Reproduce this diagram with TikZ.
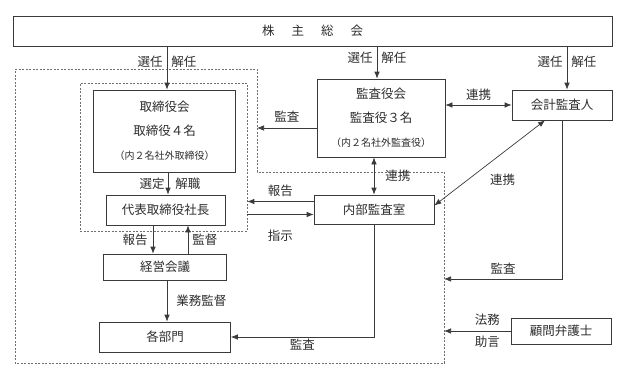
\documentclass[tikz,border=0pt]{standalone}
\usepackage{fontspec}
\setmainfont{Noto Sans CJK JP}
\usepackage{tikz}
\usetikzlibrary{arrows.meta,positioning,calc}
\usepackage{xcolor}
\definecolor{ORGline}{HTML}{3a3a3a}
\definecolor{ORGtext}{HTML}{2e2e2e}
\definecolor{ORGdash}{HTML}{707070}
\newcommand{\subtxt}[1]{{\fontsize{10}{12}\selectfont #1}}

\begin{document}
\begin{tikzpicture}[
    x=1pt,y=-1pt,
    box/.style={draw=ORGline,line width=0.7pt,fill=white,inner sep=0pt,align=center,text=ORGtext,font=\fontsize{12.5}{24}\selectfont},
    grp/.style={draw=ORGdash,line width=0.6pt,dash pattern=on 2pt off 1.5pt},
    arr/.style={-{Latex[length=7pt,width=5.5pt]},ORGline,line width=0.7pt},
    darr/.style={{Latex[length=7pt,width=5.5pt]}-{Latex[length=7pt,width=5.5pt]},ORGline,line width=0.7pt},
    lbl/.style={text=ORGtext,font=\fontsize{12.5}{15}\selectfont,inner sep=1pt}
  ]
    \useasboundingbox (0,0) rectangle (636,375);

    % COMPANY AREA
    \coordinate (grpNW) at (15,69);
    \coordinate (grpNE) at (257,69);
    \coordinate (grpMid) at (257,172);
    \coordinate (grpStep) at (444,172);
    \coordinate (grpSE) at (444,363);
    \coordinate (grpSW) at (15,363);
    \coordinate (auditin) at (444,279);
    \draw[grp] (grpNW) -- (grpNE) -- (grpMid) -- (grpStep) -- (grpSE) -- (grpSW) -- cycle;

    % SHAREHOLDERS
    \node[box,minimum width=599pt,minimum height=30pt] (sh) at (312.5,31) {株\hspace{17pt}主\hspace{17pt}総\hspace{17pt}会};

    % BOARD SIDE
    \node[grp,minimum width=167pt,minimum height=148pt] (boardgrp) at (163.5,157) {};
    \node[box,minimum width=142pt,minimum height=82pt] (board) at (164.5,131) {取締役会\\取締役４名\\ \subtxt{（内２名社外取締役）}};
    \node[box,minimum width=119pt,minimum height=30pt] (pres) at (165.5,210) {代表取締役社長};
    \node[box,minimum width=123pt,minimum height=26pt] (mgmt) at (165,267) {経営会議};
    \node[box,minimum width=131pt,minimum height=30pt] (dept) at (165,337) {各部門};

    % AUDIT SIDE
    \node[box,minimum width=128pt,minimum height=78pt] (kansa) at (381,118) {監査役会\\監査役３名\\ \subtxt{（内２名社外監査役）}};
    \node[box,minimum width=100pt,minimum height=30pt] (auditor) at (562,105) {会計監査人};
    \node[box,minimum width=120pt,minimum height=29pt] (internal) at (374,209.5) {内部監査室};
    \node[box,minimum width=100pt,minimum height=26pt] (lawyer) at (561,331) {顧問弁護士};

    % Arrows - shareholders
    \draw[arr] ([xshift=2.5pt]sh.south -| board.north) -- ([xshift=2.5pt]board.north)
      node[lbl,pos=0.35,left=3pt]{選任} node[lbl,pos=0.35,right=3pt]{解任};
    \draw[arr] ([xshift=-4pt]sh.south -| kansa.north) -- ([xshift=-4pt]kansa.north)
      node[lbl,pos=0.35,left=3pt]{選任} node[lbl,pos=0.35,right=3pt]{解任};
    \draw[arr] ([xshift=5pt]sh.south -| auditor.north) -- ([xshift=5pt]auditor.north)
      node[lbl,pos=0.35,left=3pt]{選任} node[lbl,pos=0.35,right=3pt]{解任};

    % Arrows - audit
    \draw[darr] (kansa.east |- auditor.west) -- (auditor.west) node[lbl,midway,above=3pt]{連携};
    \draw[arr] ([yshift=-10pt]kansa.west) -- ([yshift=-10pt]kansa.west -| grpNE) node[lbl,midway,above=4pt]{監査};
    \draw[darr] (internal.north) -- (internal.north |- kansa.south) node[lbl,midway,right=10pt]{連携};
    \draw[darr] ([xshift=-17pt]auditor.south) -- ([yshift=4pt]internal.east)
      node[lbl,midway,anchor=north west,xshift=-1pt,yshift=-10pt]{連携};
    \draw[arr] ([yshift=8pt]internal.west) -- ([yshift=8pt]internal.west -| boardgrp.east) node[lbl,midway,above=4pt]{報告};
    \draw[arr] ([yshift=-5pt]internal.west -| boardgrp.east) -- ([yshift=-5pt]internal.west) node[lbl,midway,below=14pt]{指示};

    % Arrows - management
    \draw[arr] ([xshift=3.5pt]board.south) -- ([xshift=3.5pt]board.south |- pres.north)
      node[lbl,midway,left=2pt]{選定} node[lbl,midway,right=6pt]{解職};
    \draw[arr] ([xshift=-12.5pt]pres.south) -- ([xshift=-12.5pt]pres.south |- mgmt.north) node[lbl,midway,left=4pt]{報告};
    \draw[arr] ([xshift=22.5pt]pres.south |- mgmt.north) -- ([xshift=22.5pt]pres.south) node[lbl,midway,right=3pt]{監督};
    \draw[arr] ([xshift=2pt]mgmt.south) -- ([xshift=2pt]mgmt.south |- dept.north) node[lbl,midway,right=8pt]{業務監督};
    \draw[arr] (internal.south) |- (dept.east) node[lbl,pos=0.75,below=1pt]{監査};

    % Arrows - outside
    \draw[arr] (auditor.south) |- (auditin) node[lbl,pos=0.75,above=3pt]{監査};
    \draw[arr] (lawyer.west) -- (lawyer.west -| auditin)
      node[lbl,pos=0.35,above=4pt]{法務} node[lbl,pos=0.35,below=4pt]{助言};
  \end{tikzpicture}
\end{document}
